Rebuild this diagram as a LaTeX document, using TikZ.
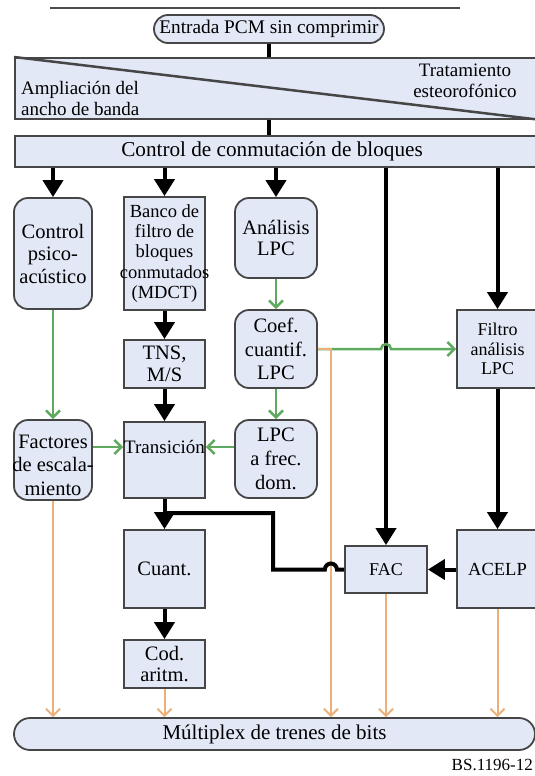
\documentclass[tikz,border=0pt]{standalone}
\usepackage{fontspec}
\setmainfont{Liberation Serif}
\usetikzlibrary{arrows.meta}
\definecolor{boxfill}{RGB}{226,232,246}
\definecolor{boxline}{RGB}{70,70,70}
\definecolor{grn}{RGB}{95,170,95}
\definecolor{org}{RGB}{236,176,120}
\begin{document}
\begin{tikzpicture}[x=1pt,y=-1pt,
  box/.style={draw=boxline, line width=1.8pt, fill=boxfill, inner xsep=-8pt, inner ysep=0pt, align=center, font=\fontsize{20.5}{21}\selectfont},
  rbox/.style={box, rounded corners=14pt},
  blk/.style={line width=4pt, black},
  blkarr/.style={blk, -{Triangle[length=17pt,width=20pt]}},
  garr/.style={line width=2.5pt, grn, -{Straight Barb[length=7pt,width=14pt]}},
  oarr/.style={line width=2pt, org, -{Straight Barb[length=7pt,width=14pt]}},
  txt/.style={inner sep=0pt, align=center, font=\fontsize{19}{21}\selectfont}
]
\useasboundingbox (0,0) rectangle (535,776);
\fill[white] (0,0) rectangle (535,776);
\draw[line width=1.2pt, black!70] (50,8) -- (460,8);

% nodes
\node[rbox, minimum width=230pt, minimum height=28pt, font=\fontsize{19.3}{21}\selectfont] (entrada) at (269,29) {Entrada PCM sin comprimir};
\node[box, minimum width=524pt, minimum height=61pt, anchor=north west] (band1) at (14,57) {};
\draw[line width=2.5pt, boxline] (band1.north west) -- (band1.south east);
\node[txt, align=left, anchor=west] (ampl) at (21,98) {Ampliación del\\ancho de banda};
\node[txt] (trat) at (465,81) {Tratamiento\\esteorofónico};
\node[box, minimum width=524pt, minimum height=31pt, anchor=north west] (band2) at (14,135) {};
\node[txt, font=\fontsize{21.2}{22}\selectfont] (band2txt) at (272,151) {Control de conmutación de bloques};

\node[rbox, minimum width=78pt, minimum height=111pt, font=\fontsize{20.5}{22.5}\selectfont] (psico) at (53,253.5) {Control\\psico-\\acústico};
\node[box, minimum width=81pt, minimum height=113pt, font=\fontsize{18.5}{20.3}\selectfont] (banco) at (164.5,253.5) {Banco de\\filtro de\\bloques\\conmutados\\(MDCT)};
\node[rbox, minimum width=82pt, minimum height=80pt] (anal) at (276,238) {Análisis\\LPC};
\node[box, minimum width=81pt, minimum height=48pt, font=\fontsize{20.5}{22}\selectfont] (tns) at (164.5,364) {TNS,\\M/S};
\node[rbox, minimum width=82pt, minimum height=78pt, font=\fontsize{20.5}{23.5}\selectfont] (coef) at (276,349) {Coef.\\cuantif.\\LPC};
\node[box, minimum width=81pt, minimum height=78pt, font=\fontsize{18}{19.5}\selectfont] (filtro) at (497.5,349) {Filtro\\análisis\\LPC};
\node[rbox, minimum width=78pt, minimum height=80pt] (fact) at (53,460) {};
\node[txt, font=\fontsize{20.5}{23.5}\selectfont] (facttxt) at (53,465) {Factores\\de escala-\\miento};
\node[box, minimum width=81pt, minimum height=76pt] (trans) at (164.5,460) {};
\node[txt] (transtxt) at (164.5,447) {Transición};
\node[rbox, minimum width=82pt, minimum height=78pt, font=\fontsize{20.5}{24}\selectfont] (lpcf) at (276,459) {LPC\\a frec.\\dom.};
\node[box, minimum width=81pt, minimum height=78pt] (cuant) at (164.5,569) {Cuant.};
\node[box, minimum width=81pt, minimum height=48pt] (cod) at (164.5,664) {Cod.\\aritm.};
\node[box, minimum width=82pt, minimum height=47pt, font=\fontsize{18}{20}\selectfont] (fac) at (386,569.5) {FAC};
\node[box, minimum width=81pt, minimum height=78pt, font=\fontsize{18.5}{20}\selectfont] (acelp) at (497.5,569) {ACELP};
\node[rbox, minimum width=521pt, minimum height=32pt, rounded corners=16pt, font=\fontsize{21}{22}\selectfont] (mux) at (274.5,734) {Múltiplex de trenes de bits};
\node[inner sep=0pt, anchor=east, font=\fontsize{17}{19}\selectfont] (bs) at (533,765) {BS.1196-12};

% black main connectors
\draw[blk] (entrada.south) -- (entrada.south |- band1.north);
\draw[blk] (band1.south -| entrada.south) -- (band2.north -| entrada.south);
\draw[blkarr] (band2.south -| psico.north) -- (psico.north);
\draw[blkarr] (band2.south -| banco.north) -- (banco.north);
\draw[blkarr] (band2.south -| anal.north) -- (anal.north);
\draw[blkarr] (band2.south -| fac.north) -- (fac.north);
\draw[blkarr] (band2.south -| filtro.north) -- (filtro.north);
\draw[blkarr] (banco.south) -- (tns.north);
\draw[blkarr] (tns.south) -- (trans.north);
\draw[blkarr] (trans.south) -- (cuant.north);
\draw[blkarr] (cuant.south) -- (cod.north);
\draw[blkarr] (filtro.south) -- (acelp.north);
\draw[blkarr] (acelp.west |- fac.east) -- (fac.east);

% green connectors
\coordinate (hopG) at (fac.north |- coef.east);
\draw[garr] (psico.south) -- (fact.north);
\draw[garr] (anal.south) -- (coef.north);
\draw[garr] (coef.south) -- (lpcf.north);
\draw[garr] (fact.east |- transtxt) -- (trans.west |- transtxt);
\draw[garr] (lpcf.west |- transtxt) -- (trans.east |- transtxt);
\draw[garr] (coef.east) -- ([xshift=-5pt]hopG) arc[start angle=180, end angle=0, radius=5pt] -- (filtro.west);

% orange connectors
\coordinate (oc) at ([xshift=13pt]coef.east);
\draw[oarr] (coef.east) -- (oc) -- (oc |- mux.north);
\draw[oarr] (fact.south) -- (fact.south |- mux.north);
\draw[oarr] (cod.south) -- (cod.south |- mux.north);
\draw[oarr] (fac.south) -- (fac.south |- mux.north);
\draw[oarr] (acelp.south) -- (acelp.south |- mux.north);

% FAC feedback to quantizer
\coordinate (hopB) at (oc |- fac.west);
\coordinate (k1) at (273,569.5);
\coordinate (k2) at (273,513);
\coordinate (k3) at (trans.south |- k2);
\draw[blk] (fac.west) -- ([xshift=6pt]hopB) arc[start angle=0, end angle=180, radius=6pt] -- (k1) -- (k2) -- (k3);
\end{tikzpicture}
\end{document}
